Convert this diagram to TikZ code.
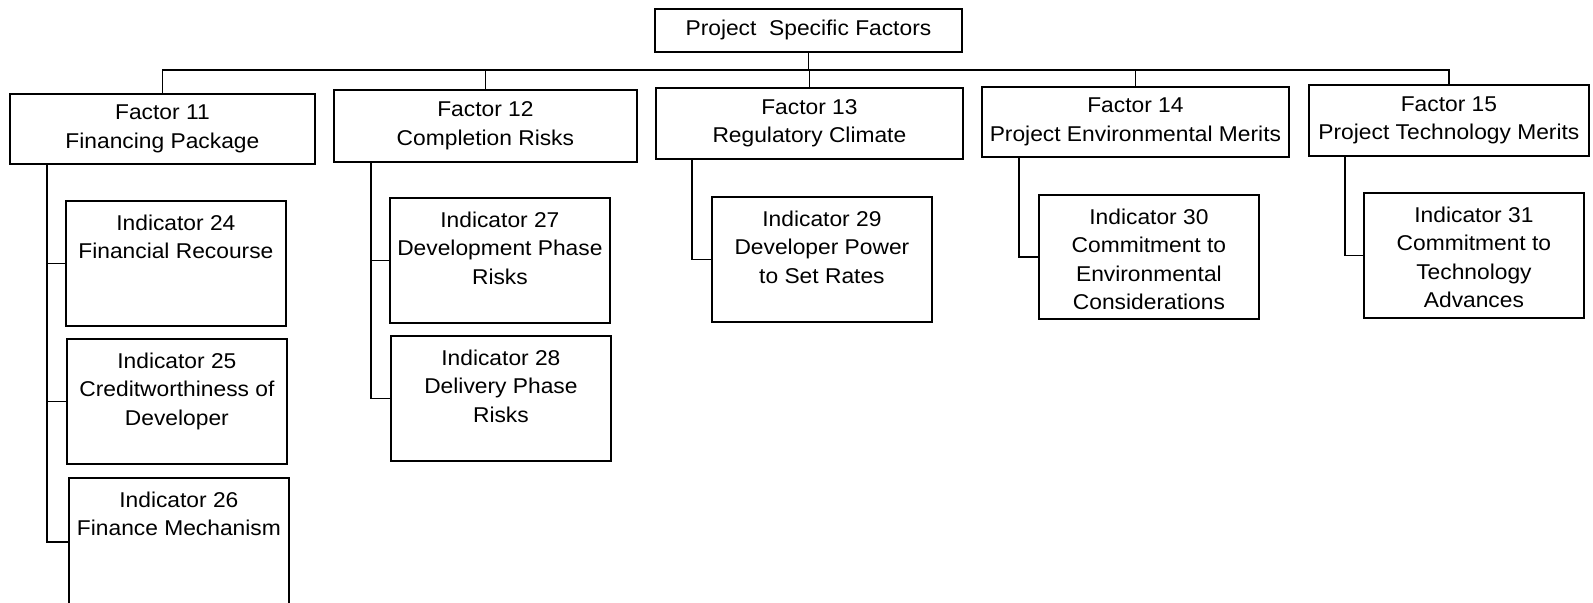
\documentclass[tikz,border=0pt]{standalone}
\usepackage{fontspec}
\setmainfont[FakeStretch=1.065]{Liberation Sans}
\begin{document}
\begin{tikzpicture}[x=0.5pt,y=-0.5pt,line width=0.9pt,
  every node/.style={font=\fontsize{10.7}{14.2}\selectfont},
  boxbase/.style={draw,inner sep=0pt,anchor=north west},
  fbox/.style={boxbase,align=center},
  ibox/.style={boxbase,minimum width=110pt,minimum height=62.5pt},
  itext/.style={anchor=north,align=center,inner sep=0pt},
]
\useasboundingbox (0,0) rectangle (1593,602);

% root
\node[fbox,minimum width=153.5pt,minimum height=21.5pt] (top) at (654,8) {Project~ Specific Factors};

% factors
\node[fbox,minimum width=152.5pt,minimum height=35pt] (f11) at (9,93) {Factor 11\\Financing Package};
\node[fbox,minimum width=151.5pt,minimum height=36pt] (f12) at (333,89) {Factor 12\\Completion Risks};
\node[fbox,minimum width=153.5pt,minimum height=35.5pt] (f13) at (655,87) {Factor 13\\Regulatory Climate};
\node[fbox,minimum width=153.5pt,minimum height=35pt] (f14) at (981,86) {Factor 14\\Project Environmental Merits};
\node[fbox,minimum width=140pt,minimum height=35.5pt] (f15) at (1308,84) {Factor 15\\Project Technology Merits};

% indicators
\node[ibox] (i24) at (65,200) {};
\node[ibox] (i25) at (66,338) {};
\node[ibox,minimum height=64pt] (i26) at (68,477) {};
\node[ibox] (i27) at (389,197) {};
\node[ibox] (i28) at (390,335) {};
\node[ibox] (i29) at (711,196) {};
\node[ibox,minimum height=62pt] (i30) at (1038,194) {};
\node[ibox] (i31) at (1363,192) {};

\node[itext] (t24) at ([yshift=-7pt]i24.north) {Indicator 24\\Financial Recourse};
\node[itext] (t25) at ([yshift=-7pt]i25.north) {Indicator 25\\Creditworthiness of\\Developer};
\node[itext] (t26) at ([yshift=-7pt]i26.north) {Indicator 26\\Finance Mechanism};
\node[itext] (t27) at ([yshift=-7pt]i27.north) {Indicator 27\\Development Phase\\Risks};
\node[itext] (t28) at ([yshift=-7pt]i28.north) {Indicator 28\\Delivery Phase\\Risks};
\node[itext] (t29) at ([yshift=-7pt]i29.north) {Indicator 29\\Developer Power\\to Set Rates};
\node[itext] (t30) at ([yshift=-7pt]i30.north) {Indicator 30\\Commitment to\\Environmental\\Considerations};
\node[itext] (t31) at ([yshift=-7pt]i31.north) {Indicator 31\\Commitment to\\Technology\\Advances};

% bus between root and factors
\coordinate (bus) at (806,70);
\draw (top.south) -- (top.south |- bus);
\draw (f11.north) -- (f11.north |- bus) -- (f15.north |- bus) -- (f15.north);
\draw (f12.north) -- (f12.north |- bus);
\draw (f13.north) -- (f13.north |- bus);
\draw (f14.north) -- (f14.north |- bus);

% drops from factors to indicators
\coordinate (d11) at ([xshift=19pt]f11.south west);
\coordinate (d12) at ([xshift=19pt]f12.south west);
\coordinate (d13) at ([xshift=18.5pt]f13.south west);
\coordinate (d14) at ([xshift=19pt]f14.south west);
\coordinate (d15) at ([xshift=18.5pt]f15.south west);
\draw (d11) |- (i24.west);
\draw (d11) |- (i25.west);
\draw (d11) |- (i26.west);
\draw (d12) |- (i27.west);
\draw (d12) |- (i28.west);
\draw (d13) |- (i29.west);
\draw (d14) |- (i30.west);
\draw (d15) |- (i31.west);
\end{tikzpicture}
\end{document}
